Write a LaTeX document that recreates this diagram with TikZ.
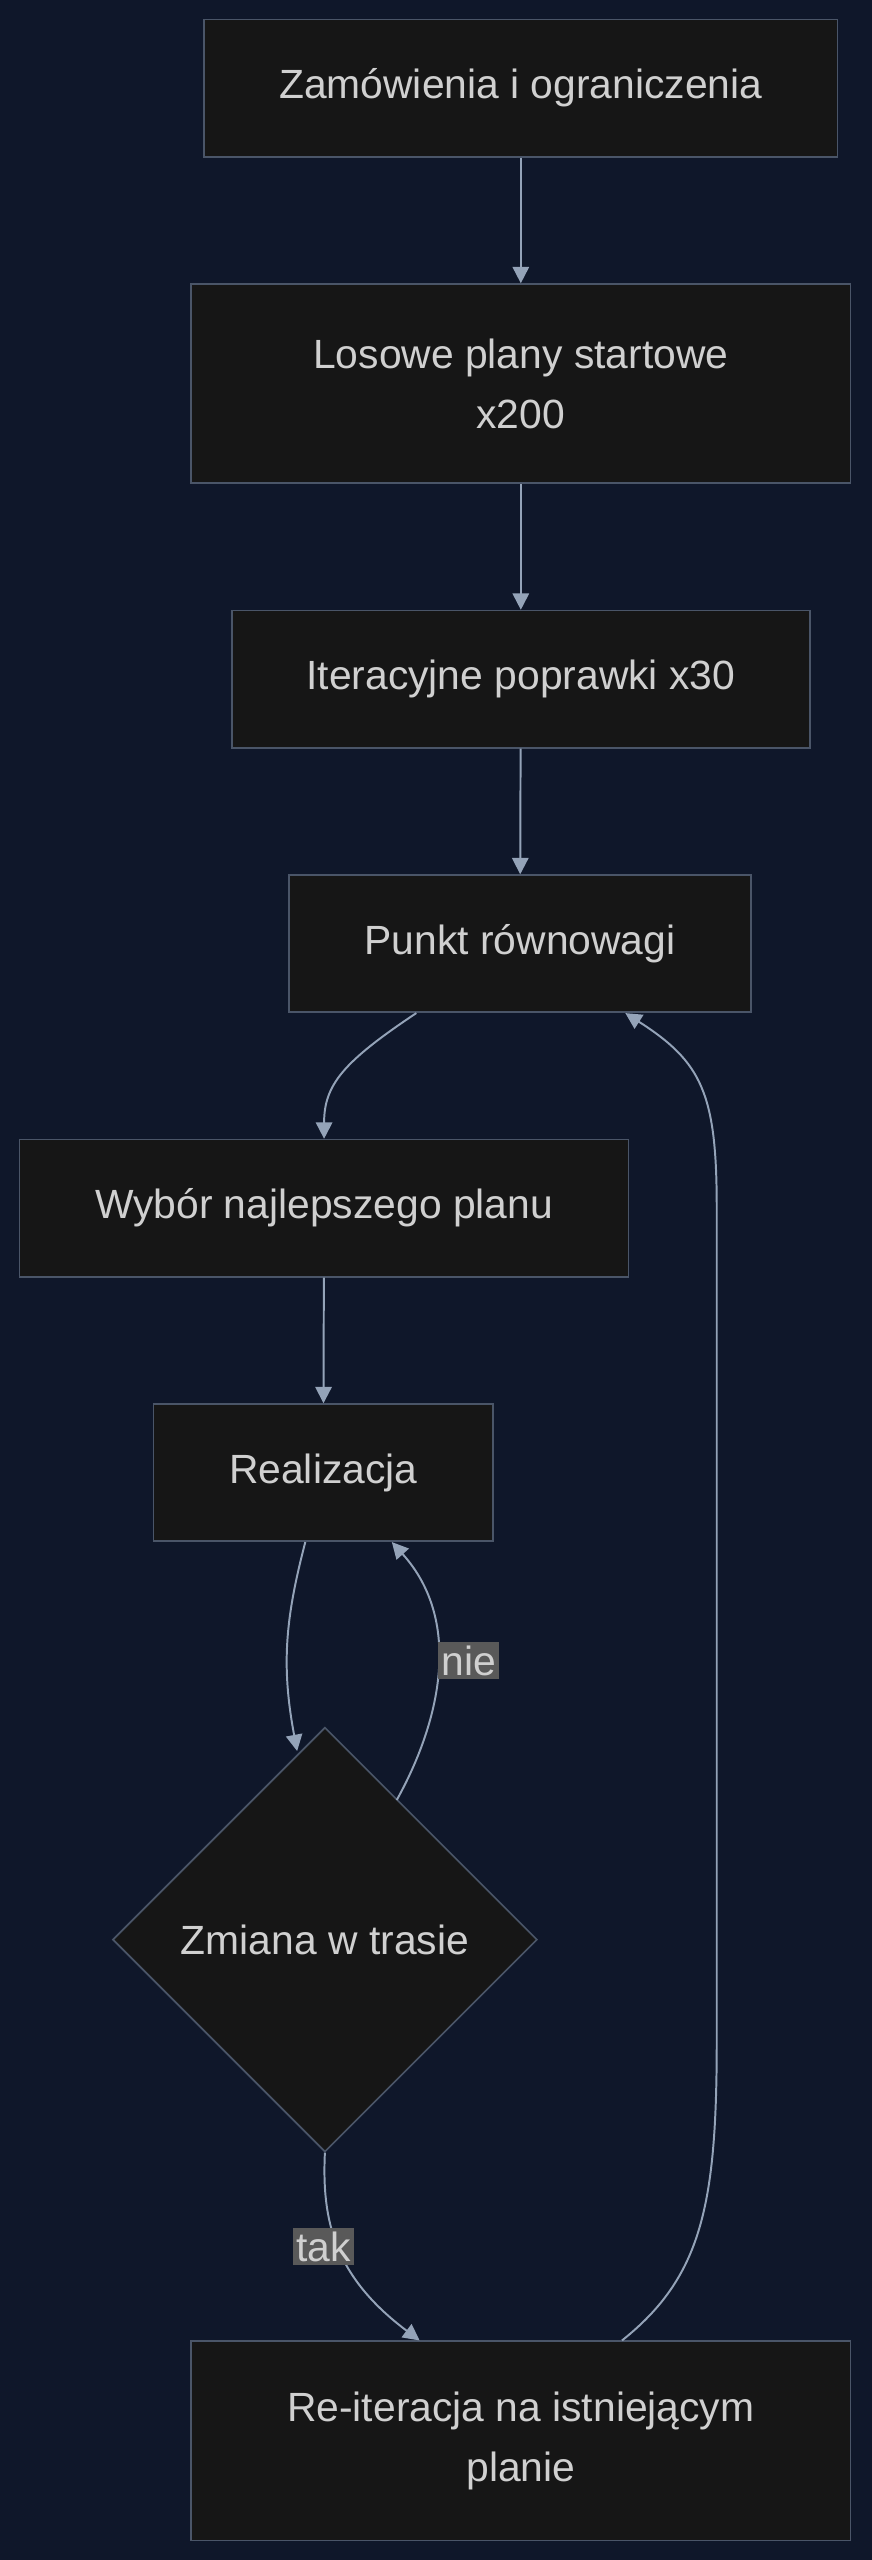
\documentclass[tikz,border=0pt]{standalone}
\usepackage{fontspec}
\setmainfont{Liberation Sans}
\usetikzlibrary{arrows.meta,shapes.geometric}
\definecolor{bg}{HTML}{0F172A}
\definecolor{nfill}{HTML}{161616}
\definecolor{nline}{HTML}{4A5568}
\definecolor{txt}{HTML}{D0D0D0}
\definecolor{edge}{HTML}{94A3B8}
\definecolor{lbl}{HTML}{595959}
\begin{document}
\begin{tikzpicture}[x=1pt,y=-1pt,
  box/.style={draw=nline,line width=1pt,fill=nfill,text=txt,inner sep=0pt,font=\fontsize{25}{37}\selectfont,align=center},
  dia/.style={diamond,draw=nline,line width=1pt,fill=nfill,text=txt,inner sep=0pt,minimum width=260pt,minimum height=260pt,font=\fontsize{25}{37}\selectfont},
  lab/.style={fill=lbl,text=txt,inner sep=2pt,font=\fontsize{25}{30}\selectfont},
  ar/.style={draw=edge,line width=1.2pt,-{Triangle[width=10pt,length=10pt]}}]
\fill[bg] (0,0) rectangle (534,1568);
\useasboundingbox (0,0) rectangle (534,1568);
\node[box,minimum width=388pt,minimum height=84pt] (n1) at (319,54) {Zamówienia i ograniczenia};
\node[box,minimum width=404pt,minimum height=122pt] (n2) at (319,235) {Losowe plany startowe\\x200};
\node[box,minimum width=354pt,minimum height=84pt] (n3) at (319,416) {Iteracyjne poprawki x30};
\node[box,minimum width=283pt,minimum height=84pt] (n4) at (318.5,578) {Punkt równowagi};
\node[box,minimum width=373pt,minimum height=84pt] (n5) at (198.5,740) {Wybór najlepszego planu};
\node[box,minimum width=208pt,minimum height=84pt] (n6) at (198,902) {Realizacja};
\node[dia] (n7) at (199,1188) {Zmiana w trasie};
\node[box,minimum width=404pt,minimum height=122pt] (n8) at (319,1495) {Re-iteracja na istniejącym\\planie};
\draw[ar] (n1) -- (n2);
\draw[ar] (n2) -- (n3);
\draw[ar] (n3) -- (n4);
\draw[ar] ([xshift=-63.5pt]n4.south) .. controls +(-45,30) and +(0,-33) .. (n5.north);
\draw[ar] (n5) -- (n6);
\draw[ar] ([xshift=-11pt]n6.south) .. controls +(-12,46) and +(-10,-53) .. ([xshift=-17pt,yshift=-15pt]n7.north);
\draw[ar] ([xshift=44pt,yshift=-45pt]n7.north) .. controls +(25,-45) and +(45,50) .. ([xshift=42pt]n6.south);
\node[lab] (l1) at (287,1017) {nie};
\draw[ar] (n7.south) .. controls +(-2,42) and +(-52,-39) .. ([xshift=-62pt]n8.north);
\node[lab] (l2) at (198,1376) {tak};
\draw[ar] ([xshift=62pt]n8.north) .. controls +(49,-39) and +(0,100) .. (439,1250) -- (439,740) .. controls +(0,-70) and +(47,30) .. ([xshift=64.5pt]n4.south);
\end{tikzpicture}
\end{document}
